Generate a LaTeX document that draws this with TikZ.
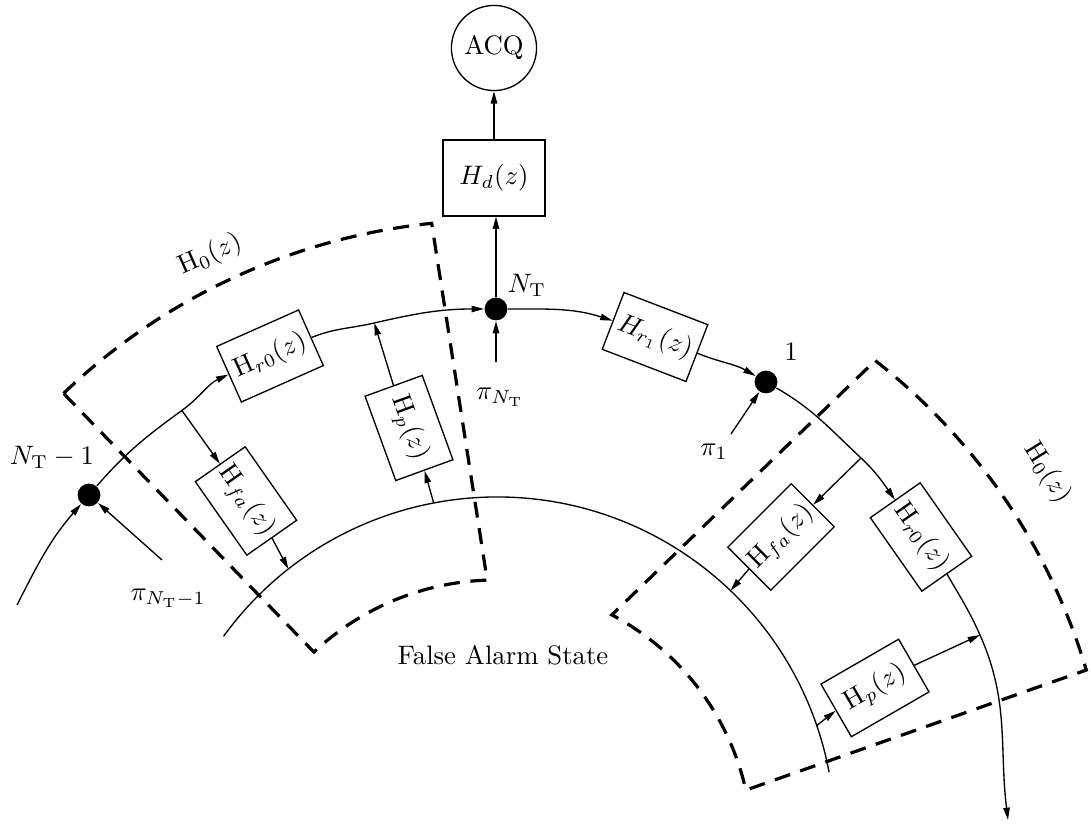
\documentclass[tikz,border=0pt]{standalone}
\usetikzlibrary{arrows.meta,calc}
\begin{document}
\begin{tikzpicture}[x=0.013158cm,y=0.013158cm,
  line width=0.5pt,
  >={Triangle[length=4.6pt,width=2.4pt]},
  dot/.style={circle,fill,inner sep=0pt,minimum size=0.3cm},
  rbox/.style={draw,rectangle,minimum width=1.18cm,minimum height=0.80cm,inner sep=1pt},
  zone/.style={line width=1.2pt,dash pattern=on 6pt off 4pt}]
\useasboundingbox (0,0) rectangle (1091,825);
\coordinate (Co) at (496,-21);
\coordinate (Ci) at (497,-10);

% nodes
\node[draw,circle,minimum size=1.12cm,inner sep=0pt] (acq) at (494,777) {ACQ};
\node[draw,minimum width=1.34cm,minimum height=1.0cm] (hd) at (494,647) {$H_d(z)$};
\node[dot] (nt) at (496,516) {};
\node[dot] (ntm1) at (89,330) {};
\node[dot] (one) at (766,443) {};
\node[rbox,rotate=-21] (hr1) at (655,488) {$H_{r_1}(z)$};
\node[rbox,rotate=24] (hroL) at (270,469) {$\mathrm{H}_{r0}(z)$};
\node[rbox,rotate=-55] (hfaL) at (246,324) {$\mathrm{H}_{fa}(z)$};
\node[rbox,rotate=-70] (hpL) at (409,397) {$\mathrm{H}_{p}(z)$};
\node[rbox,rotate=45] (hfaR) at (781,288) {$\mathrm{H}_{fa}(z)$};
\node[rbox,rotate=-55] (hroR) at (921,288) {$\mathrm{H}_{r0}(z)$};
\node[rbox,rotate=30] (hpR) at (875,137) {$\mathrm{H}_{p}(z)$};

% labels
\node (lnt) at (527,540) {$N_{\mathrm{T}}$};
\node (lntm1) at (52,368) {$N_{\mathrm{T}}-1$};
\node (lpntm1) at (168,227) {$\pi_{N_{\mathrm{T}}-1}$};
\node (lpnt) at (500,428) {$\pi_{N_{\mathrm{T}}}$};
\node (lone) at (791,473) {$1$};
\node (lp1) at (714,373) {$\pi_1$};
\node[rotate=24] (lh0L) at (210,570) {$\mathrm{H}_0(z)$};
\node[rotate=-58] (lh0R) at (1047,352) {$\mathrm{H}_0(z)$};
\node (fas) at (503,170) {False Alarm State};

% coordinates on the outer path
\coordinate (s0) at (17,220);
\coordinate (b1) at ($(Co)+(125.8:537)$);
\coordinate (pL) at ($(Co)+(103.1:537)$);
\coordinate (b2) at (861,367);
\coordinate (pR) at (980,190);
\coordinate (e0) at (1008,5);
% inner arc
\coordinate (iS) at ($(Ci)+(144:338)$);
\coordinate (iFaL) at ($(Ci)+(128.1:338)$);
\coordinate (iPL) at ($(Ci)+(100.8:338)$);
\coordinate (iFaR) at ($(Ci)+(46.3:338)$);
\coordinate (iPR) at ($(Ci)+(18.9:338)$);
% pi arrow starts
\coordinate (spntm1) at (162,265);
\coordinate (spnt) at (496,463);
\coordinate (sp1) at (731,391);

% outer path
\draw[->] (s0) to[out=63,in=229] (ntm1);
\draw (ntm1) to[out=49,in=216] (b1);
\draw[->] (b1) to[out=36,in=205] (hroL.west);
\draw (hroL.east) to[out=22,in=193] (pL);
\draw[->] (pL) to[out=13,in=180] (nt);
\draw[->] (nt) to[out=0,in=162] (hr1.west);
\draw[->] (hr1.east) to[out=-22,in=150] (one);
\draw (one) to[out=-30,in=137] (b2);
\draw[->] (b2) to[out=-43,in=125] (hroR.west);
\draw (hroR.east) to[out=-60,in=114] (pR);
\draw[->] (pR) to[out=-66,in=97] (e0);

% inner arc
\draw (iS) arc[start angle=144,end angle=10.7,radius=338];

% cross connectors
\draw[->] (b1) -- (hfaL.west);
\draw[->] (hfaL.east) -- (iFaL);
\draw[->] (iPL) -- (hpL.east);
\draw[->] (hpL.west) -- (pL);
\draw[->] (b2) -- (hfaR.east);
\draw[->] (hfaR.west) -- (iFaR);
\draw[->] (iPR) -- (hpR.west);
\draw[->] (hpR.east) -- (pR);
\draw[->] (nt) -- (nt |- hd.south);
\draw[->] (hd) -- (acq);
\draw[->] (spntm1) -- (ntm1);
\draw[->] (spnt) -- (nt);
\draw[->] (sp1) -- (one);

% dashed regions
\draw[zone] ($(Co)+(133.7:626)$) arc[start angle=133.7,end angle=95.9,radius=626]
  -- ($(Co)+(91.9:266)$) arc[start angle=91.9,end angle=133.2,radius=266] -- cycle;
\draw[zone] ($(Co)+(52:616)$) arc[start angle=52,end angle=16.6,radius=616]
  -- ($(Co)+(12.6:256)$) arc[start angle=12.6,end angle=62.2,radius=263] -- cycle;
\end{tikzpicture}
\end{document}
